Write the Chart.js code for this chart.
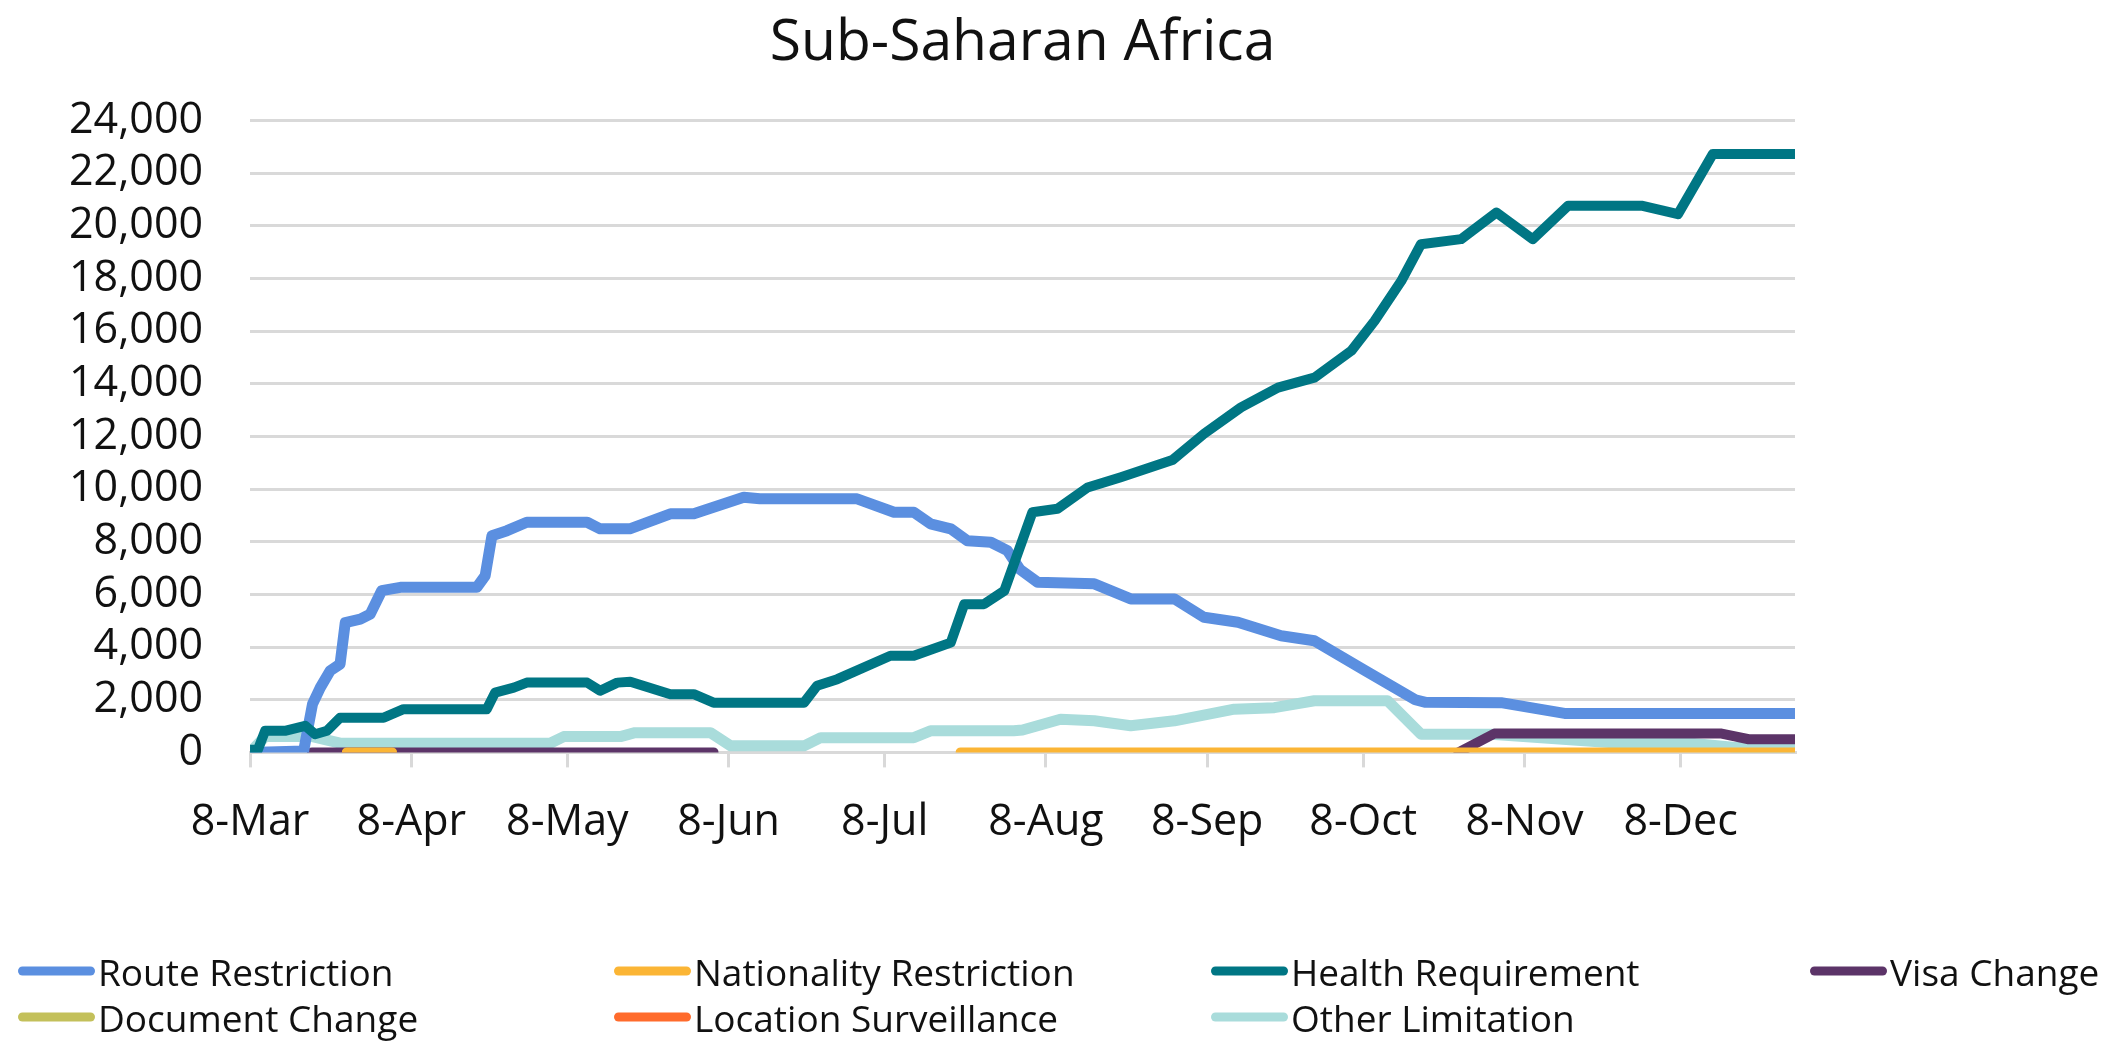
<!DOCTYPE html>
<html>
<head>
<meta charset="utf-8">
<style>
  html, body { margin: 0; padding: 0; background: #fff; }
  #wrap { position: relative; width: 2126px; height: 1044px; }
  #legend { position: absolute; left: 0; top: 0; width: 2126px; height: 1044px; pointer-events: none;
            font-family: "Open Sans", sans-serif; font-size: 37px; color: #111; }
  .item { position: absolute; display: flex; align-items: center; white-space: nowrap; transform: translateY(-50%); }
  .mark { width: 77px; height: 9px; border-radius: 5px; margin-right: 3px; }
</style>
</head>
<body>
<div id="wrap">
  <canvas id="myChart"></canvas>
  <div id="legend"></div>
</div>
<script src="https://cdn.jsdelivr.net/npm/chart.js"></script>
<script>
// x = days after 8-Mar
var tickDays   = [0, 31, 61, 92, 122, 153, 184, 214, 245, 275];
var tickLabels = ['8-Mar', '8-Apr', '8-May', '8-Jun', '8-Jul', '8-Aug', '8-Sep', '8-Oct', '8-Nov', '8-Dec'];

var routeDays   = [0, 10.3, 12, 13.5, 15.4, 17.3, 18.3, 21.2, 23.1, 25.3, 28.9, 43.6, 45.2, 46.5, 49.4, 53.2, 64.8, 67.3, 73, 80.8, 85.3, 94.9, 98, 116.7, 123.8, 127.6, 130.8, 134.7, 137.9, 142.4, 145.6, 148, 151.4, 162.3, 169.3, 177.7, 183.4, 189.9, 198.2, 204.6, 214, 224, 226, 240.5, 252.7, 297];
var routeValues = [0, 50, 1830, 2460, 3100, 3350, 4930, 5060, 5250, 6140, 6270, 6270, 6710, 8230, 8420, 8740, 8740, 8490, 8490, 9060, 9060, 9690, 9630, 9630, 9120, 9120, 8680, 8490, 8040, 7980, 7660, 6950, 6460, 6400, 5830, 5830, 5130, 4940, 4430, 4240, 3150, 2000, 1900, 1890, 1480, 1480];

var nationalityDays   = [18.6, 27.3, 80, 136.6, 297];
var nationalityValues = [0, 0, null, 0, 0];

var healthDays   = [0, 1.5, 2.9, 6.7, 10.6, 12.5, 14.8, 17.3, 25.7, 29.5, 45.5, 47.1, 50.7, 53.2, 64.8, 67.3, 70.6, 73.1, 80.8, 85.3, 89.1, 106.5, 109, 112.9, 123.1, 127.6, 134.7, 137.3, 141.1, 145, 150.4, 155.2, 161, 167.4, 177.3, 183.4, 190.5, 197.6, 204.6, 211.7, 216.2, 221.3, 225.1, 232.8, 239.6, 246.6, 253.4, 267.5, 274.5, 281.2, 297];
var healthValues = [100, 100, 820, 820, 1010, 690, 820, 1320, 1320, 1640, 1640, 2270, 2460, 2650, 2650, 2340, 2650, 2680, 2210, 2210, 1890, 1890, 2530, 2780, 3670, 3670, 4170, 5630, 5630, 6140, 9120, 9250, 10060, 10450, 11100, 12100, 13100, 13850, 14230, 15250, 16390, 17900, 19300, 19490, 20500, 19490, 20760, 20760, 20440, 22720, 22720];

var visaDays   = [11.9, 89.1, 160, 232.3, 239.2, 282.9, 288.1, 297];
var visaValues = [0, 0, null, 0, 715, 715, 500, 500];

var documentDays   = [];
var documentValues = [];

var locationDays   = [];
var locationValues = [];

var otherDays   = [0, 2.9, 12, 17.3, 57.7, 60.3, 71.2, 74, 88.5, 92.4, 106.5, 109.7, 127.6, 130.8, 146.8, 148.5, 155.8, 162.3, 169.3, 177.7, 189.2, 196.9, 204.6, 218.7, 225.1, 238.6, 262, 276, 285, 297];
var otherValues = [0, 600, 600, 350, 350, 600, 600, 750, 750, 250, 250, 560, 560, 820, 820, 850, 1260, 1200, 1010, 1200, 1640, 1700, 1960, 1960, 690, 690, 370, 370, 200, 150];

function pts(days, vals) {
    return days.map(function (d, i) { return { x: d, y: vals[i] }; });
}

function line(label, days, vals, color, width, order) {
    return {
        label: label,
        data: pts(days, vals),
        borderColor: color,
        backgroundColor: color,
        borderWidth: width,
        pointRadius: 0,
        tension: 0,
        spanGaps: false,
        borderJoinStyle: 'round',
        borderCapStyle: 'round',
        order: order
    };
}

var tickFont = { family: '"Open Sans", sans-serif', size: 43 };

var chart = new Chart(document.getElementById('myChart'), {
    type: 'line',
    data: {
        datasets: [
            line('Route Restriction', routeDays, routeValues, '#5b8fe0', 11, 2),
            line('Nationality Restriction', nationalityDays, nationalityValues, '#fbb535', 10, 0),
            line('Health Requirement', healthDays, healthValues, '#007684', 10, 1),
            line('Visa Change', visaDays, visaValues, '#5c3468', 10, 3),
            line('Document Change', documentDays, documentValues, '#c3c05a', 10, 5),
            line('Location Surveillance', locationDays, locationValues, '#ff6b2c', 10, 6),
            line('Other Limitation', otherDays, otherValues, '#a9dcdb', 11, 4)
        ]
    },
    options: {
        responsive: true,
        maintainAspectRatio: false,
        animation: false,
        layout: { padding: { left: 22, right: 331, top: 0, bottom: 165 } },
        plugins: {
            legend: { display: false },
            tooltip: { enabled: false },
            title: {
                display: true,
                text: 'Sub-Saharan Africa',
                fullSize: false,
                color: '#111',
                font: { family: '"Open Sans", sans-serif', size: 57, weight: 'normal' },
                padding: { top: 10, bottom: 42 }
            }
        },
        scales: {
            x: {
                type: 'linear',
                min: 0,
                max: 297,
                afterBuildTicks: function (scale) {
                    scale.ticks = tickDays.map(function (d) { return { value: d }; });
                },
                ticks: {
                    autoSkip: false,
                    maxRotation: 0,
                    padding: 30,
                    color: '#111',
                    font: tickFont,
                    callback: function (v) {
                        var i = tickDays.indexOf(v);
                        return i >= 0 ? tickLabels[i] : '';
                    }
                },
                grid: { drawOnChartArea: false, drawTicks: true, tickLength: 15, color: '#d9d9d9', lineWidth: 3 },
                border: { display: true, color: '#d9d9d9', width: 3 }
            },
            y: {
                min: 0,
                max: 24000,
                ticks: {
                    stepSize: 2000,
                    autoSkip: false,
                    padding: 47,
                    color: '#111',
                    font: tickFont,
                    callback: function (v) { return v.toLocaleString('en-US'); }
                },
                grid: { color: '#d9d9d9', lineWidth: 3, drawTicks: false },
                border: { display: false }
            }
        }
    }
});

// legend laid out in a 4-column grid like the original
var legendX = [18, 614, 1211, 1810];
var legendY = [971, 1017];
var legendBox = document.getElementById('legend');
chart.data.datasets.forEach(function (ds, i) {
    var item = document.createElement('div');
    item.className = 'item';
    item.style.left = legendX[i % 4] + 'px';
    item.style.top = legendY[Math.floor(i / 4)] + 'px';
    var mark = document.createElement('span');
    mark.className = 'mark';
    mark.style.background = ds.borderColor;
    var txt = document.createElement('span');
    txt.textContent = ds.label;
    item.appendChild(mark);
    item.appendChild(txt);
    legendBox.appendChild(item);
});
</script>
</body>
</html>
